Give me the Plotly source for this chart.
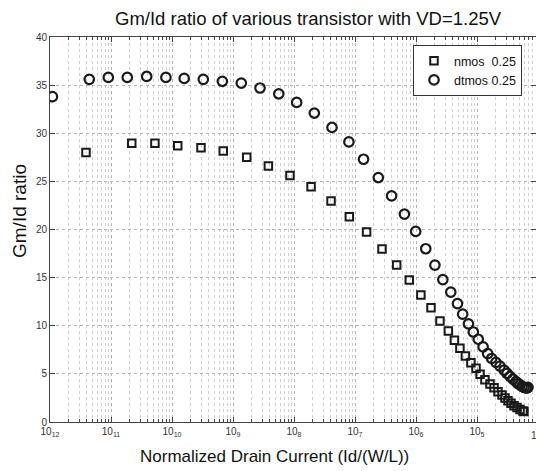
import plotly.graph_objects as go

# Data (x given as log10 of normalized drain current)
nmos_logx = [-11.41, -10.66, -10.28, -9.906, -9.525, -9.16, -8.775, -8.42, -8.066, -7.72,
             -7.393, -7.093, -6.81, -6.557, -6.317, -6.11, -5.92, -5.754, -5.607, -5.47,
             -5.37, -5.28, -5.19, -5.10, -5.016, -4.95, -4.87, -4.787, -4.721, -4.656,
             -4.590, -4.541, -4.492, -4.443, -4.393, -4.344, -4.295, -4.246, -4.23]
nmos_gmid = [28.0, 28.95, 28.95, 28.7, 28.5, 28.15, 27.5, 26.6, 25.6, 24.45,
             22.96, 21.33, 19.74, 17.97, 16.31, 14.75, 13.2, 11.87, 10.5, 9.45,
             8.5, 7.65, 6.86, 6.16, 5.58, 4.95, 4.4, 3.95, 3.55, 3.15,
             2.8, 2.5, 2.2, 1.95, 1.7, 1.5, 1.3, 1.15, 1.1]

dtmos_logx = [-11.96, -11.356, -11.044, -10.733, -10.415, -10.10, -9.80, -9.487, -9.175, -8.864,
              -8.557, -8.25, -7.956, -7.667, -7.377, -7.10, -6.86, -6.618, -6.40, -6.19,
              -6.005, -5.84, -5.69, -5.56, -5.43, -5.32, -5.235, -5.14, -5.06, -4.98,
              -4.90, -4.825, -4.76, -4.69, -4.623, -4.557, -4.508, -4.459, -4.410, -4.361,
              -4.328, -4.295, -4.262, -4.230, -4.197, -4.180, -4.164]
dtmos_gmid = [33.8, 35.6, 35.8, 35.8, 35.9, 35.8, 35.7, 35.6, 35.4, 35.2,
              34.7, 34.1, 33.2, 32.1, 30.6, 29.1, 27.3, 25.4, 23.5, 21.6,
              19.8, 18.0, 16.3, 14.8, 13.5, 12.3, 11.2, 10.2, 9.35, 8.6,
              7.8, 7.1, 6.6, 6.2, 5.8, 5.4, 5.05, 4.75, 4.45, 4.2,
              4.0, 3.85, 3.7, 3.6, 3.55, 3.55, 3.6]

decades = [-12, -11, -10, -9, -8, -7, -6, -5, -4]
decade_labels = ["10<sub>12</sub>", "10<sub>11</sub>", "10<sub>10</sub>", "10<sub>9</sub>",
                 "10<sub>8</sub>", "10<sub>7</sub>", "10<sub>6</sub>", "10<sub>5</sub>",
                 "10<sub>4</sub>"]
y_ticks = [0, 5, 10, 15, 20, 25, 30, 35, 40]

FONT = "Liberation Sans, Arial, Helvetica, sans-serif"
GRID = "#b4b4b4"
GRID_MINOR = "#cfcfcf"

fig = go.Figure()
fig.add_trace(go.Scatter(
    x=[10 ** v for v in nmos_logx], y=nmos_gmid, mode="markers", name="nmos  0.25",
    marker=dict(symbol="square-open", size=7.5, color="#1a1a1a", line=dict(width=2, color="#1a1a1a")),
))
fig.add_trace(go.Scatter(
    x=[10 ** v for v in dtmos_logx], y=dtmos_gmid, mode="markers", name="dtmos 0.25",
    marker=dict(symbol="circle-open", size=9.5, color="#1a1a1a", line=dict(width=2.2, color="#1a1a1a")),
))

minor_vals = [k * 10.0 ** e for e in decades[:-1] for k in range(2, 10)]

W, H = 536, 471
L, R, T, B = 50, 0, 37, 49
x_hi = -4 - 2 / 61.0

fig.update_layout(
    width=W, height=H,
    margin=dict(l=L, r=R, t=T, b=B),
    paper_bgcolor="white", plot_bgcolor="white",
    font=dict(family=FONT, color="#222"),
    showlegend=True,
    legend=dict(x=(413 - L) / (W - L), y=(422 - 45) / 385.0, xanchor="left", yanchor="top",
                bordercolor="#333", borderwidth=1, bgcolor="white",
                font=dict(size=12.5, family=FONT, color="#111"), tracegroupgap=0,
                itemwidth=30),
    xaxis=dict(
        type="log", range=[-12, x_hi],
        tickmode="array", tickvals=[10.0 ** d for d in decades], ticktext=decade_labels,
        ticks="inside", ticklen=5, tickcolor="#444",
        showline=True, linecolor="#444", linewidth=1, mirror="ticks",
        showgrid=True, gridcolor=GRID, griddash="dot", gridwidth=1,
        tickfont=dict(size=10, color="#333"),
        minor=dict(tickmode="array", tickvals=minor_vals, ticks="inside", ticklen=3,
                   tickcolor="#444", showgrid=True, gridcolor=GRID_MINOR, griddash="dot"),
        zeroline=False,
    ),
    yaxis=dict(
        range=[0, 40], tickmode="array", tickvals=y_ticks,
        ticks="inside", ticklen=5, tickcolor="#444",
        showline=True, linecolor="#444", linewidth=1, mirror="ticks",
        showgrid=True, gridcolor=GRID, griddash="dot", gridwidth=1,
        tickfont=dict(size=10, color="#333"),
        zeroline=False,
    ),
    annotations=[
        dict(text="Gm/Id ratio of various transistor with VD=1.25V", xref="paper", yref="paper",
             x=(308 - L) / (W - L), y=(422 - 19) / 385.0, xanchor="center", yanchor="middle",
             showarrow=False, font=dict(size=18.5, family=FONT, color="#111")),
        dict(text="Normalized Drain Current (Id/(W/L))", xref="paper", yref="paper",
             x=(274 - L) / (W - L), y=(422 - 457) / 385.0, xanchor="center", yanchor="middle",
             showarrow=False, font=dict(size=17, family=FONT, color="#111")),
        dict(text="Gm/Id ratio", xref="paper", yref="paper", textangle=-90,
             x=(19 - L) / (W - L), y=(422 - 211) / 385.0, xanchor="center", yanchor="middle",
             showarrow=False, font=dict(size=19, family=FONT, color="#111")),
        dict(text=decade_labels[-1], xref="paper", yref="paper",
             x=(538 - L) / (W - L), y=(422 - 436) / 385.0, xanchor="center", yanchor="middle",
             showarrow=False, font=dict(size=10, family=FONT, color="#333")),
    ],
)

fig.write_html(
    "out.html",
    config={"displayModeBar": False},
    post_script="document.body.style.margin='0';document.body.style.padding='0';"
                "document.documentElement.style.overflow='hidden';",
)
